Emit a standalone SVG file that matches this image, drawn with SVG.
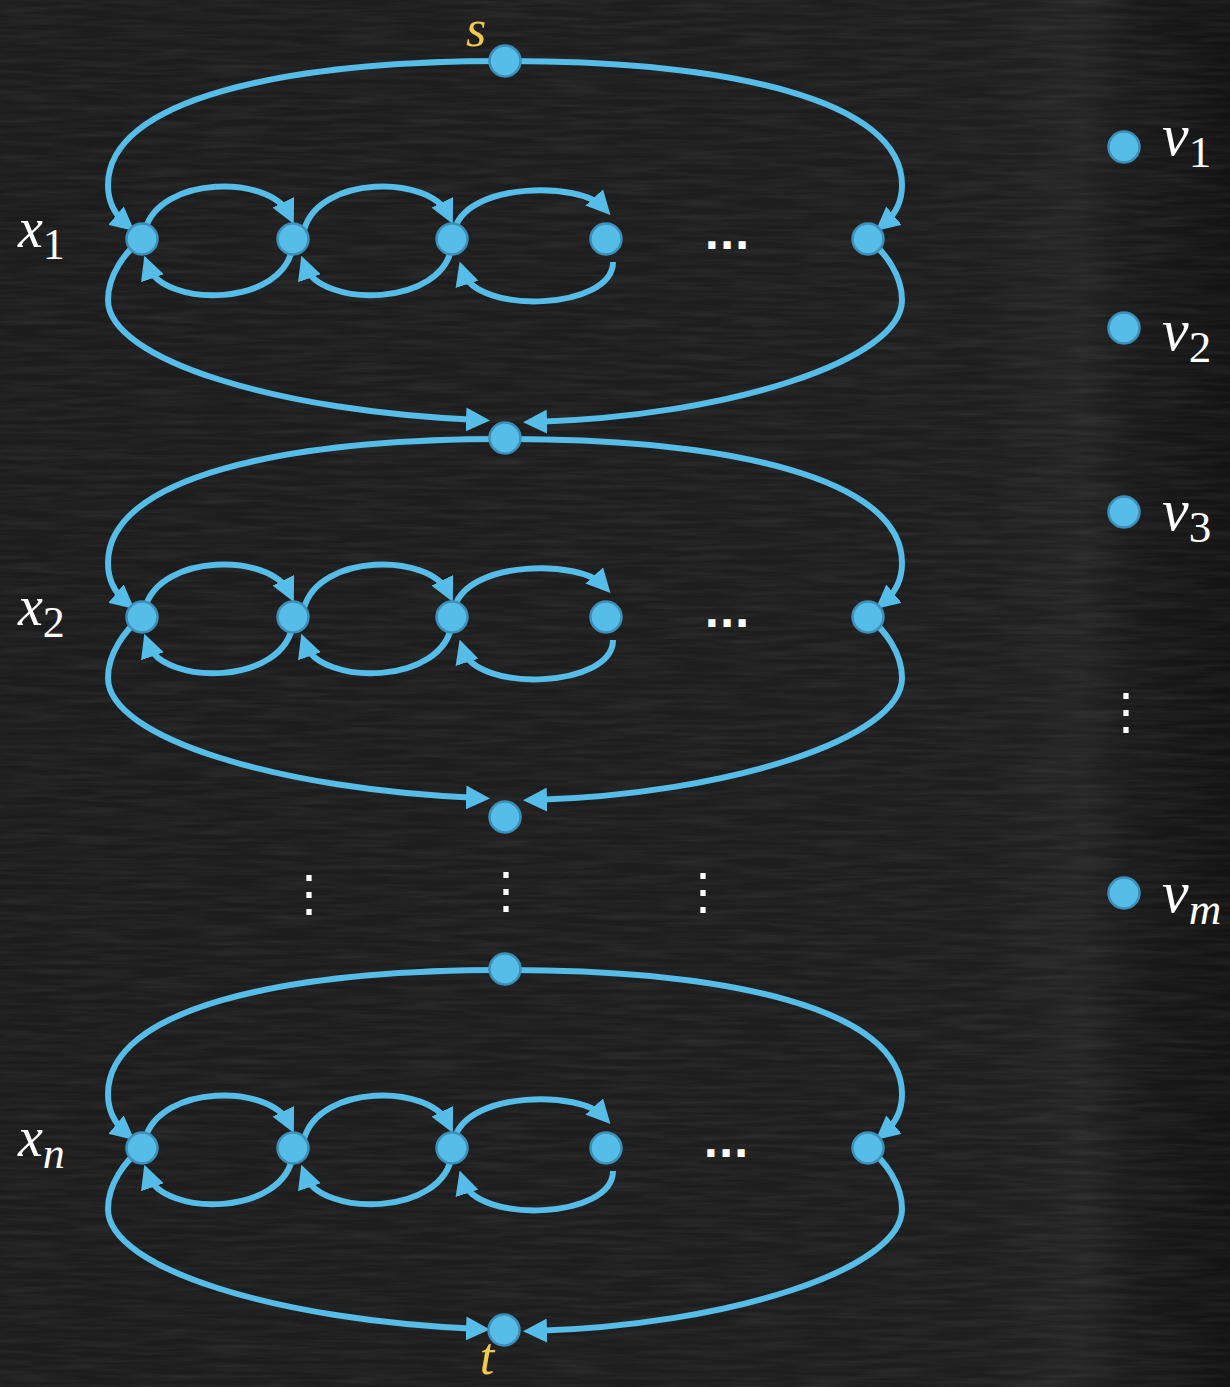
<svg xmlns="http://www.w3.org/2000/svg" width="1230" height="1387" viewBox="0 0 1230 1387">
<defs>
<style>
.edge{fill:none;stroke:#56bce8;stroke-width:6;stroke-linecap:butt}
.arr{marker-end:url(#ah)}
.node{fill:#56bce8;stroke:#3b8fb8;stroke-width:2.5}
.lab{fill:#ffffff;font-family:"Liberation Serif","DejaVu Serif",serif}
.it{font-style:italic}
.st{fill:#f2c94c;font-family:"Liberation Serif","DejaVu Serif",serif;font-style:italic}
.hdots{fill:#ffffff;font-family:"DejaVu Sans",sans-serif;font-weight:bold;font-size:40px}
.vdots{fill:#ffffff;font-family:"DejaVu Serif",serif;font-size:50px}
</style>
<marker id="ah" viewBox="-13 -12 24 24" refX="0" refY="0" markerWidth="24" markerHeight="24" markerUnits="userSpaceOnUse" orient="auto">
<path d="M-13,-12 L11,0 L-13,12 z" fill="#56bce8"/>
</marker>
<filter id="chalk" x="0" y="0" width="100%" height="100%">
<feTurbulence type="fractalNoise" baseFrequency="0.015 0.2" numOctaves="3" seed="7"/>
<feColorMatrix type="matrix" values="0 0 0 0 1  0 0 0 0 1  0 0 0 0 1  0.3 0 0 0 -0.1"/>
</filter>
<linearGradient id="bg" x1="0" y1="0" x2="1" y2="0">
<stop offset="0" stop-color="#1c1c1c"/>
<stop offset="0.8" stop-color="#1e1e1e"/>
<stop offset="0.88" stop-color="#242424"/>
<stop offset="0.92" stop-color="#1a1a1a"/>
<stop offset="1" stop-color="#131313"/>
</linearGradient>
</defs>
<rect x="0" y="0" width="1230" height="1387" fill="url(#bg)"/>
<rect x="0" y="0" width="1230" height="1387" fill="#ffffff" filter="url(#chalk)" opacity="0.4"/>

<g id="connectors">
<g id="row1-edges">
<path class="edge arr" d="M505,61 C280,61 108,100 108,185 C108,202 114,214 126,224"/>
<path class="edge arr" d="M505,61 C730,61 902,100 902,185 C902,202 896,214 884,224"/>
<path class="edge arr" d="M142,239 C125,252 108,275 108,300 C108,360 280,412 479,420"/>
<path class="edge arr" d="M868,239 C885,252 902,275 902,300 C902,360 730,416 534,422"/>
<path class="edge arr" d="M145,230 C160,175 270,175 289,214"/>
<path class="edge arr" d="M304,230 C319,175 429,175 448,214"/>
<path class="edge arr" d="M455,228 C470,182 580,182 603,207"/>
<path class="edge arr" d="M293,245 C285,308 163,308 148,266"/>
<path class="edge arr" d="M452,245 C444,308 320,308 305,266"/>
<path class="edge arr" d="M613,262 C613,310 477,315 463,272"/>
</g>
<g id="row2-edges" transform="translate(0,378)">
<path class="edge arr" d="M505,61 C280,61 108,100 108,185 C108,202 114,214 126,224"/>
<path class="edge arr" d="M505,61 C730,61 902,100 902,185 C902,202 896,214 884,224"/>
<path class="edge arr" d="M142,239 C125,252 108,275 108,300 C108,360 280,412 479,420"/>
<path class="edge arr" d="M868,239 C885,252 902,275 902,300 C902,360 730,416 534,422"/>
<path class="edge arr" d="M145,230 C160,175 270,175 289,214"/>
<path class="edge arr" d="M304,230 C319,175 429,175 448,214"/>
<path class="edge arr" d="M455,228 C470,182 580,182 603,207"/>
<path class="edge arr" d="M293,245 C285,308 163,308 148,266"/>
<path class="edge arr" d="M452,245 C444,308 320,308 305,266"/>
<path class="edge arr" d="M613,262 C613,310 477,315 463,272"/>
</g>
<g id="rown-edges" transform="translate(0,909)">
<path class="edge arr" d="M505,61 C280,61 108,100 108,185 C108,202 114,214 126,224"/>
<path class="edge arr" d="M505,61 C730,61 902,100 902,185 C902,202 896,214 884,224"/>
<path class="edge arr" d="M142,239 C125,252 108,275 108,300 C108,360 280,412 479,420"/>
<path class="edge arr" d="M868,239 C885,252 902,275 902,300 C902,360 730,416 534,422"/>
<path class="edge arr" d="M145,230 C160,175 270,175 289,214"/>
<path class="edge arr" d="M304,230 C319,175 429,175 448,214"/>
<path class="edge arr" d="M455,228 C470,182 580,182 603,207"/>
<path class="edge arr" d="M293,245 C285,308 163,308 148,266"/>
<path class="edge arr" d="M452,245 C444,308 320,308 305,266"/>
<path class="edge arr" d="M613,262 C613,310 477,315 463,272"/>
</g>
</g>

<g id="node-s"><circle class="node" cx="505" cy="61" r="15.5"/><text class="st" x="476" y="46" font-size="52" text-anchor="middle">s</text></g>

<g id="node-x1-1"><circle class="node" cx="142" cy="239" r="15.5"/></g>
<g id="node-x1-2"><circle class="node" cx="293" cy="239" r="15.5"/></g>
<g id="node-x1-3"><circle class="node" cx="452" cy="239" r="15.5"/></g>
<g id="node-x1-4"><circle class="node" cx="606" cy="239" r="15.5"/></g>
<g id="node-x1-k"><circle class="node" cx="868" cy="239" r="15.5"/></g>
<g id="node-m1"><circle class="node" cx="505" cy="438" r="15.5"/></g>

<g id="node-x2-1"><circle class="node" cx="142" cy="617" r="15.5"/></g>
<g id="node-x2-2"><circle class="node" cx="293" cy="617" r="15.5"/></g>
<g id="node-x2-3"><circle class="node" cx="452" cy="617" r="15.5"/></g>
<g id="node-x2-4"><circle class="node" cx="606" cy="617" r="15.5"/></g>
<g id="node-x2-k"><circle class="node" cx="868" cy="617" r="15.5"/></g>
<g id="node-m2"><circle class="node" cx="505" cy="817" r="15.5"/></g>

<g id="node-m3"><circle class="node" cx="505" cy="969" r="15.5"/></g>
<g id="node-xn-1"><circle class="node" cx="142" cy="1148" r="15.5"/></g>
<g id="node-xn-2"><circle class="node" cx="293" cy="1148" r="15.5"/></g>
<g id="node-xn-3"><circle class="node" cx="452" cy="1148" r="15.5"/></g>
<g id="node-xn-4"><circle class="node" cx="606" cy="1148" r="15.5"/></g>
<g id="node-xn-k"><circle class="node" cx="868" cy="1148" r="15.5"/></g>
<g id="node-t"><circle class="node" cx="504" cy="1330" r="15.5"/><text class="st" x="487" y="1374" font-size="52" text-anchor="middle">t</text></g>

<g id="node-v1"><circle class="node" cx="1124" cy="147" r="15.5"/><text class="lab" x="1162" y="155" font-size="60"><tspan class="it">v</tspan><tspan font-size="45" dy="12">1</tspan></text></g>
<g id="node-v2"><circle class="node" cx="1124" cy="328" r="15.5"/><text class="lab" x="1162" y="350" font-size="60"><tspan class="it">v</tspan><tspan font-size="45" dy="12">2</tspan></text></g>
<g id="node-v3"><circle class="node" cx="1124" cy="512" r="15.5"/><text class="lab" x="1162" y="530" font-size="60"><tspan class="it">v</tspan><tspan font-size="45" dy="12">3</tspan></text></g>
<g id="node-vm"><circle class="node" cx="1124" cy="893" r="15.5"/><text class="lab" x="1162" y="912" font-size="60"><tspan class="it">v</tspan><tspan class="it" font-size="45" dy="12">m</tspan></text></g>

<g id="labels">
<text class="lab" x="18" y="247" font-size="56"><tspan class="it">x</tspan><tspan font-size="44" dy="12">1</tspan></text>
<text class="lab" x="18" y="625" font-size="56"><tspan class="it">x</tspan><tspan font-size="44" dy="12">2</tspan></text>
<text class="lab" x="18" y="1156" font-size="56"><tspan class="it">x</tspan><tspan class="it" font-size="44" dy="12">n</tspan></text>
<text class="hdots" x="727" y="249" text-anchor="middle">...</text>
<text class="hdots" x="727" y="627" text-anchor="middle">...</text>
<text class="hdots" x="726" y="1157" text-anchor="middle">...</text>
<text class="vdots" x="309" y="910" text-anchor="middle">⋮</text>
<text class="vdots" x="506" y="907" text-anchor="middle">⋮</text>
<text class="vdots" x="703" y="908" text-anchor="middle">⋮</text>
<text class="vdots" x="1126" y="728" text-anchor="middle">⋮</text>
</g>
</svg>
